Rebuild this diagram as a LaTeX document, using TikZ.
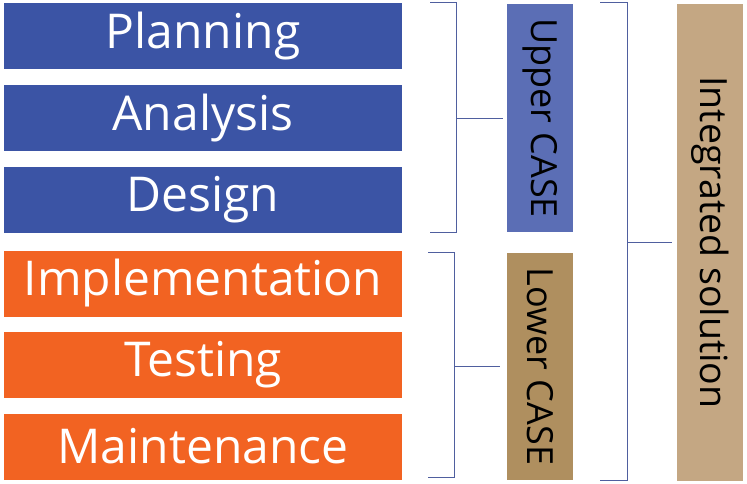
\documentclass[tikz,border=0pt]{standalone}
\usepackage{fontspec}
\setmainfont{Open Sans}
\usetikzlibrary{positioning,calc}

\definecolor{phaseblue}{HTML}{3B54A5}
\definecolor{phaseorange}{HTML}{F26322}
\definecolor{upperblue}{HTML}{5B6EB5}
\definecolor{lowertan}{HTML}{AF8F5F}
\definecolor{inttan}{HTML}{C4A783}
\definecolor{bracketcol}{HTML}{4F5F9F}

\begin{document}
\begin{tikzpicture}[
    x=1pt, y=-1pt,
    phase/.style={rectangle, minimum width=398pt, minimum height=66pt, inner sep=0pt, text=white, font=\fontsize{48}{52}\selectfont},
    tool/.style={rectangle, minimum width=66pt, inner sep=0pt, text=black, font=\fontsize{36}{40}\selectfont},
    bracket/.style={draw=bracketcol, line width=0.9pt}
]
\useasboundingbox (0,0) rectangle (747,483);

% Life cycle phases
\node[phase, fill=phaseblue] (plan) at (203,36) {Planning};
\node[phase, fill=phaseblue] (anal) at (203,118) {Analysis};
\node[phase, fill=phaseblue] (design) at (203,199.5) {Design};
\node[phase, fill=phaseorange] (impl) at (203,283.5) {Implementation};
\node[phase, fill=phaseorange] (test) at (203,365) {Testing};
\node[phase, fill=phaseorange] (maint) at (203,446.5) {Maintenance};

% CASE groups
\node[tool, fill=upperblue, minimum height=228pt] (upper) at (540,118) {\rotatebox{-90}{Upper CASE}};
\node[tool, fill=lowertan, minimum height=227pt] (lower) at (540,366.5) {\rotatebox{-90}{Lower CASE}};
\node[tool, fill=inttan, minimum height=477pt, font=\fontsize{37.5}{42}\selectfont] (integ) at (710,242.5) {\rotatebox{-90}{Integrated solution}};

% Brackets to upper CASE
\coordinate (uppermid) at ($(upper.west)+(-50,0)$);
\draw[bracket] ($(plan.north east)+(28,0)$) -| (uppermid) |- ($(design.south east)+(28,0)$);
\draw[bracket] (uppermid) -- ($(upper.west)+(-4,0)$);

% Brackets to lower CASE
\coordinate (lowermid) at ($(lower.west)+(-52,0)$);
\draw[bracket] ($(impl.north east)+(26,2)$) -| (lowermid) |- ($(maint.south east)+(26,-2)$);
\draw[bracket] (lowermid) -- ($(lower.west)+(-7,0)$);

% Bracket to integrated solution
\coordinate (integmid) at ($(integ.west)+(-49,0)$);
\draw[bracket] ($(upper.north east)+(27,-1)$) -| (integmid) |- ($(lower.south east)+(27,0)$);
\draw[bracket] (integmid) -- ($(integ.west)+(-5,0)$);

\end{tikzpicture}
\end{document}
